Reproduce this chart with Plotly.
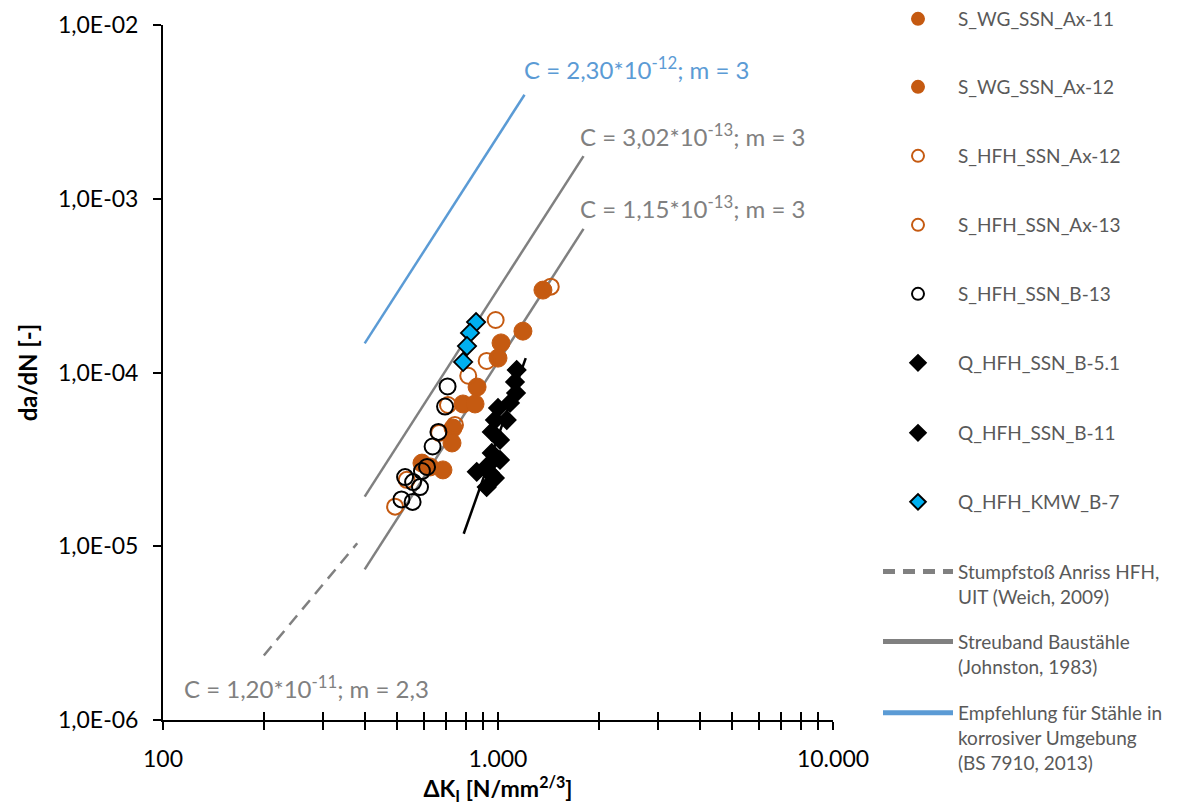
import plotly.graph_objects as go

# ---------------- data ----------------
wg11_x = [1362, 1187, 1021, 1000, 866, 786, 734, 593]
wg11_y = [2.98e-4, 1.73e-4, 1.48e-4, 1.21e-4, 8.25e-5, 6.59e-5, 4.79e-5, 3.01e-5]
wg12_x = [854, 729, 685, 627]
wg12_y = [6.59e-5, 3.93e-5, 2.75e-5, 2.86e-5]
hfh12_x = [815, 709, 744, 667, 534, 493]
hfh12_y = [9.58e-5, 6.50e-5, 4.99e-5, 4.49e-5, 2.41e-5, 1.69e-5]
hfh13_x = [1437, 984, 925]
hfh13_y = [3.12e-4, 2.005e-4, 1.165e-4]
b13_x = [707, 695, 664, 638, 614, 593, 528, 558, 585, 515, 556]
b13_y = [8.31e-5, 6.37e-5, 4.55e-5, 3.75e-5, 2.86e-5, 2.71e-5, 2.50e-5, 2.34e-5, 2.19e-5, 1.86e-5, 1.80e-5]
q51_x = [1137, 1124, 1132, 1086, 1062, 1014, 979, 1000]
q51_y = [1.034e-4, 8.82e-5, 7.62e-5, 6.68e-5, 5.33e-5, 4.09e-5, 5.33e-5, 6.25e-5]
q11_x = [958, 958, 1014, 864, 946, 979, 925, 934]
q11_y = [4.55e-5, 3.44e-5, 3.14e-5, 2.68e-5, 2.64e-5, 2.47e-5, 2.19e-5, 2.93e-5]
kmw_x = [860, 825, 808, 787]
kmw_y = [1.95e-4, 1.69e-4, 1.42e-4, 1.15e-4]

weich_x = [200, 380]
weich_y = [2.35e-6, 1.04e-5]
johnston_x = [400, 1800, None, 400, 1800]
johnston_y = [1.93e-5, 1.76e-3, None, 7.36e-6, 6.71e-4]
bs_x = [400, 1200]
bs_y = [1.47e-4, 3.97e-3]
fit_x = [790, 1210]
fit_y = [1.18e-5, 1.21e-4]

x_tickvals = [100, 200, 300, 400, 500, 600, 700, 800, 900,
              1000, 2000, 3000, 4000, 5000, 6000, 7000, 8000, 9000, 10000]
x_ticktext = ["100"] + [""] * 8 + ["1.000"] + [""] * 8 + ["10.000"]
y_tickvals = [1e-6, 1e-5, 1e-4, 1e-3, 1e-2]
y_ticktext = ["1,0E-06", "1,0E-05", "1,0E-04", "1,0E-03", "1,0E-02"]

NB = "\u00a0"
legend_names = [
    "S_WG_SSN_Ax-11", "S_WG_SSN_Ax-12", "S_HFH_SSN_Ax-12", "S_HFH_SSN_Ax-13",
    "S_HFH_SSN_B-13", "Q_HFH_SSN_B-5.1", "Q_HFH_SSN_B-11", "Q_HFH_KMW_B-7",
    NB + "<br>Stumpfstoß Anriss HFH,<br>UIT (Weich, 2009)",
    NB + "<br>Streuband Baustähle<br>(Johnston, 1983)",
    NB + "<br>" + NB + "<br>Empfehlung für Stähle in<br>korrosiver Umgebung<br>(BS 7910, 2013)",
]

# ---------------- styling ----------------
ORANGE = "#C55A11"
CYAN = "#00B0F0"
BLUE = "#5B9BD5"
GRAY = "#808080"
FONT = "Lato"

W, H = 1181, 808
OFF = 8  # page body offset in the screenshot
L, R, T, B = 163, 833, 25, 720  # plot area in screen pixels


def px_x(p):
    return (p - L) / (R - L)


def px_y(p):
    return (B - p) / (B - T)


fig = go.Figure()

# lines
fig.add_trace(go.Scatter(x=weich_x, y=weich_y, mode="lines", name=legend_names[8],
                         line=dict(color=GRAY, width=2.5, dash="12px,8px"), legend="legend9"))
fig.add_trace(go.Scatter(x=johnston_x, y=johnston_y, mode="lines", name=legend_names[9],
                         line=dict(color=GRAY, width=2.5), legend="legend10"))
fig.add_trace(go.Scatter(x=bs_x, y=bs_y, mode="lines", name=legend_names[10],
                         line=dict(color=BLUE, width=2.5), legend="legend11"))
fig.add_trace(go.Scatter(x=fit_x, y=fit_y, mode="lines", showlegend=False,
                         line=dict(color="black", width=2.5)))

filled = dict(symbol="circle", size=18, color=ORANGE, line=dict(color=ORANGE, width=1))
open_or = dict(symbol="circle-open", size=16, color=ORANGE, line=dict(color=ORANGE, width=2))
open_bk = dict(symbol="circle-open", size=16, color="black", line=dict(color="black", width=2))
dia_bk = dict(symbol="diamond", size=14, color="black", line=dict(color="black", width=1.5))
dia_cy = dict(symbol="diamond", size=14, color=CYAN, line=dict(color="black", width=1.8))

series = [
    (wg11_x, wg11_y, filled),
    (wg12_x, wg12_y, filled),
    (hfh12_x, hfh12_y, open_or),
    (hfh13_x, hfh13_y, open_or),
    (b13_x, b13_y, open_bk),
    (q51_x, q51_y, dia_bk),
    (q11_x, q11_y, dia_bk),
    (kmw_x, kmw_y, dia_cy),
]
for i, (xs, ys, mk) in enumerate(series):
    fig.add_trace(go.Scatter(x=xs, y=ys, mode="markers", name=legend_names[i],
                             marker=mk, legend="legend" if i == 0 else f"legend{i + 1}"))

# legends (one per entry to reproduce the spacing)
legend_centers = [19, 87, 156, 225, 294, 363, 433, 502, 572, 642, 713]
legend_font = dict(family=FONT, size=19, color="#595959")
layout_legends = {}
for i, c in enumerate(legend_centers):
    key = "legend" if i == 0 else f"legend{i + 1}"
    layout_legends[key] = dict(
        x=px_x(878), xanchor="left", y=px_y(c), yanchor="middle",
        font=legend_font, bgcolor="rgba(0,0,0,0)", borderwidth=0,
        itemwidth=70, itemsizing="constant", tracegroupgap=0,
    )

annotations = [
    dict(text="C = 2,30*10<sup>-12</sup>; m = 3", x=px_x(522), y=px_y(68), color=BLUE),
    dict(text="C = 3,02*10<sup>-13</sup>; m = 3", x=px_x(578), y=px_y(135), color=GRAY),
    dict(text="C = 1,15*10<sup>-13</sup>; m = 3", x=px_x(578), y=px_y(207), color=GRAY),
    dict(text="C = 1,20*10<sup>-11</sup>; m = 2,3", x=px_x(182), y=px_y(687), color=GRAY),
]
ann = [dict(text=a["text"], x=a["x"], y=a["y"], xref="paper", yref="paper",
            xanchor="left", yanchor="middle", showarrow=False,
            font=dict(family=FONT, size=24, color=a["color"])) for a in annotations]

fig.update_layout(
    width=W, height=H,
    margin=dict(l=L - OFF, r=W - R + OFF, t=T - OFF, b=H - B + OFF, pad=0, autoexpand=False),
    paper_bgcolor="white", plot_bgcolor="white",
    font=dict(family=FONT, size=22, color="black"),
    annotations=ann,
    **layout_legends,
    xaxis=dict(
        type="log", range=[2, 4], showgrid=False, zeroline=False,
        showline=True, linecolor="black", linewidth=2,
        tickmode="array", tickvals=x_tickvals, ticktext=x_ticktext,
        ticks="outside", ticklen=8, tickwidth=2, tickcolor="black",
        tickfont=dict(family=FONT, size=23, color="black"),
        ticklabelstandoff=9,
        title=dict(text="<b>ΔK<sub>I</sub> [N/mm<sup>2/3</sup>]</b>",
                   font=dict(family=FONT, size=23, color="black"), standoff=9),
    ),
    xaxis2=dict(
        type="log", range=[2, 4], overlaying="x", anchor="y", side="bottom",
        showgrid=False, zeroline=False, showline=False,
        tickmode="array", tickvals=x_tickvals, ticktext=[""] * len(x_tickvals),
        ticks="inside", ticklen=8, tickwidth=2, tickcolor="black",
        showticklabels=False,
    ),
    yaxis=dict(
        type="log", range=[-6, -2], showgrid=False, zeroline=False,
        showline=True, linecolor="black", linewidth=2,
        tickmode="array", tickvals=y_tickvals, ticktext=y_ticktext,
        ticks="outside", ticklen=8, tickwidth=2, tickcolor="black",
        tickfont=dict(family=FONT, size=23, color="black"),
        ticklabelstandoff=10,
        title=dict(text="<b>da/dN [-]</b>",
                   font=dict(family=FONT, size=24, color="black"), standoff=14),
    ),
)
# invisible trace to activate the overlay axis that draws the inner half of the crossing ticks
fig.add_trace(go.Scatter(x=[100], y=[1e-6], xaxis="x2", mode="markers",
                         marker=dict(opacity=0), showlegend=False, hoverinfo="skip"))

fig.write_html("out.html")
